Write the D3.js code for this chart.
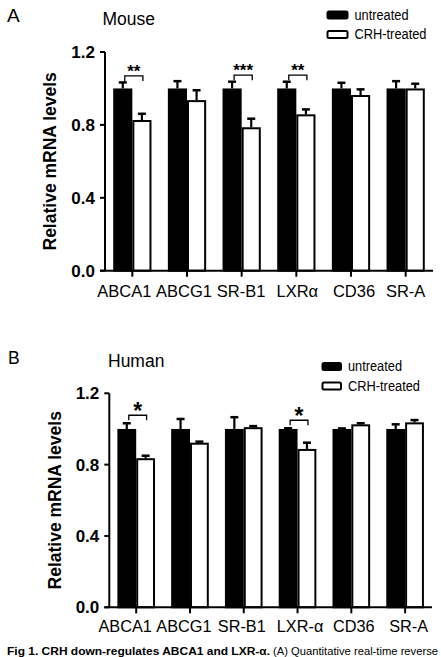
<!DOCTYPE html>
<html><head><meta charset="utf-8">
<script src="https://cdn.jsdelivr.net/npm/d3@7"></script>
<style>
body{margin:0;background:#fff;}
text{font-family:"Liberation Sans",Arial,Helvetica,sans-serif;fill:#000;}
</style></head>
<body>
<svg id="chart" width="441" height="657"></svg>
<script>
// ---- data ----
const mouseCategories = ["ABCA1","ABCG1","SR-B1","LXRα","CD36","SR-A"];
const humanCategories = ["ABCA1","ABCG1","SR-B1","LXR-α","CD36","SR-A"];
const seriesNames = ["untreated","CRH-treated"];
const mouseUntreated = [1.0,1.0,1.0,1.0,1.0,1.0];
const mouseUntreatedErr = [0.033,0.040,0.037,0.037,0.031,0.040];
const mouseTreated = [0.827,0.936,0.787,0.858,0.964,1.0];
const mouseTreatedErr = [0.034,0.054,0.047,0.027,0.031,0.026];
const mouseSig = ["**","","***","**","",""];
const humanUntreated = [1.0,1.0,1.0,1.0,1.0,1.0];
const humanUntreatedErr = [0.032,0.056,0.066,0.004,0.003,0.026];
const humanTreated = [0.836,0.923,1.01,0.888,1.026,1.037];
const humanTreatedErr = [0.014,0.006,0.006,0.035,0.006,0.013];
const humanSig = ["*","","","*","",""];
const yTicks = [0.0,0.4,0.8,1.2];

const svg = d3.select("#chart");

function panel(o){
  const g = svg.append("g");
  const y = d3.scaleLinear().domain([0,1.2]).range([o.y0,o.yTop]);
  const x = d3.scaleBand().domain(o.cats).range([o.xAxis,o.xEnd]).paddingInner(0.3).paddingOuter(0.15);
  const sub = d3.scaleBand().domain(seriesNames).range([0,x.bandwidth()]);

  const rows = o.cats.map((c,i)=>({c,i}));
  const grp = g.selectAll("g.grp").data(rows).join("g").attr("transform",d=>`translate(${x(d.c)},0)`);
  [[o.u,o.ue,"#000"],[o.t,o.te,"#fff"]].forEach(([vals,errs,fill],si)=>{
    const s = seriesNames[si];
    grp.append("line").attr("x1",d=>sub(s)+sub.bandwidth()/2).attr("x2",d=>sub(s)+sub.bandwidth()/2)
      .attr("y1",d=>y(vals[d.i])).attr("y2",d=>y(vals[d.i]+errs[d.i])).attr("stroke","#000").attr("stroke-width",2.2);
    grp.append("line").attr("x1",d=>sub(s)+sub.bandwidth()/2-4).attr("x2",d=>sub(s)+sub.bandwidth()/2+4)
      .attr("y1",d=>y(vals[d.i]+errs[d.i])).attr("y2",d=>y(vals[d.i]+errs[d.i])).attr("stroke","#000").attr("stroke-width",2.5);
    grp.append("rect").attr("x",sub(s)+1).attr("width",sub.bandwidth()-2)
      .attr("y",d=>y(vals[d.i])+1).attr("height",d=>y(0)-y(vals[d.i])-1)
      .attr("fill",fill).attr("stroke","#000").attr("stroke-width",2);
  });

  rows.filter(d=>o.sig[d.i]).forEach(d=>{
    const xa = x(d.c)+sub(seriesNames[0])+sub.bandwidth()/2 + 2;
    const xb = x(d.c)+sub(seriesNames[1])+sub.bandwidth()/2 + 1;
    const top = y(Math.max(o.u[d.i]+o.ue[d.i],o.t[d.i]+o.te[d.i])) - o.brGap;
    g.append("path").attr("d",`M${xa},${top+5}V${top}H${xb}V${top+5}`)
      .attr("fill","none").attr("stroke","#000").attr("stroke-width",1.3);
    g.append("text").attr("x",(xa+xb)/2).attr("y",top+o.starDy).attr("text-anchor","middle")
      .style("font-size",o.starSize+"px").style("font-weight","bold").text(o.sig[d.i]);
  });

  g.append("line").attr("x1",o.xAxis-5).attr("x2",o.xEnd).attr("y1",y(0)).attr("y2",y(0)).attr("stroke","#000").attr("stroke-width",2);
  g.append("line").attr("x1",o.xAxis).attr("x2",o.xAxis).attr("y1",y(0)).attr("y2",y(1.2)).attr("stroke","#000").attr("stroke-width",2);
  yTicks.forEach(t=>{
    g.append("line").attr("x1",o.xAxis-5).attr("x2",o.xAxis).attr("y1",y(t)).attr("y2",y(t)).attr("stroke","#000").attr("stroke-width",2);
    g.append("text").attr("x",o.xAxis-10).attr("y",y(t)+6).attr("text-anchor","end")
      .style("font-size","17px").style("font-weight","bold").text(t.toFixed(1));
  });
  o.cats.forEach((c,i)=>{
    const cx = x(c)+x.bandwidth()/2;
    g.append("line").attr("x1",cx).attr("x2",cx).attr("y1",y(0)).attr("y2",y(0)+6).attr("stroke","#000").attr("stroke-width",2);
    g.append("text").attr("x",cx+o.labShift[i]).attr("y",o.xLabY).attr("text-anchor","middle").style("font-size",o.labSize+"px").text(c);
  });

  g.append("text").attr("transform",`translate(${o.yLabX},${(y(0)+y(1.2))/2}) rotate(-90)`)
    .attr("text-anchor","middle").style("font-size","17.5px").style("font-weight","bold").text("Relative mRNA levels");

  g.append("text").attr("x",o.letterX).attr("y",o.letterY).style("font-size",o.letterSize+"px").text(o.letter);
  g.append("text").attr("x",o.titleX).attr("y",o.titleY).style("font-size","17.5px").text(o.title);

  seriesNames.forEach((s,i)=>{
    g.append("rect").attr("x",o.legX+1).attr("y",o.legY+i*o.legDy+1).attr("width",o.legW-2).attr("height",o.legH-2)
      .attr("rx",1.5).attr("fill",i===0?"#000":"#fff").attr("stroke","#000").attr("stroke-width",2);
    g.append("text").attr("x",o.legX+o.legW+6).attr("y",o.legY+i*o.legDy+o.legH)
      .attr("textLength",i===0?54:72).attr("lengthAdjust","spacingAndGlyphs")
      .style("font-size","14px").text(s);
  });
}

panel({cats:mouseCategories,u:mouseUntreated,ue:mouseUntreatedErr,t:mouseTreated,te:mouseTreatedErr,sig:mouseSig,
  xAxis:105,xEnd:433,y0:270.7,yTop:52,xLabY:296.5,yLabX:56,labSize:16.5,labShift:[-8,-3,-0.5,1,3,0],
  letter:"A",letterX:7,letterY:22,letterSize:19,title:"Mouse",titleX:102.5,titleY:25,
  legX:326.5,legY:10.5,legDy:19.5,legW:22,legH:9,brGap:6.5,starDy:1,starSize:17});
panel({cats:humanCategories,u:humanUntreated,ue:humanUntreatedErr,t:humanTreated,te:humanTreatedErr,sig:humanSig,
  xAxis:109.3,xEnd:432,y0:607.3,yTop:393.3,xLabY:632,yLabX:61,labSize:16.3,labShift:[-11,-6,-2,2.5,2.5,3.5],
  letter:"B",letterX:8,letterY:363.5,letterSize:17.5,title:"Human",titleX:108,titleY:366.5,
  legX:321.5,legY:362,legDy:19.5,legW:20.5,legH:9,brGap:8,starDy:4,starSize:23});

svg.append("text").attr("x",7).attr("y",654.5).attr("textLength",263).attr("lengthAdjust","spacingAndGlyphs")
  .style("font-size","11.5px").style("font-weight","bold").text("Fig 1. CRH down-regulates ABCA1 and LXR-α.");
svg.append("text").attr("x",273).attr("y",654.5).attr("textLength",165).attr("lengthAdjust","spacingAndGlyphs")
  .style("font-size","11.5px").text("(A) Quantitative real-time reverse");
</script>
</body></html>
